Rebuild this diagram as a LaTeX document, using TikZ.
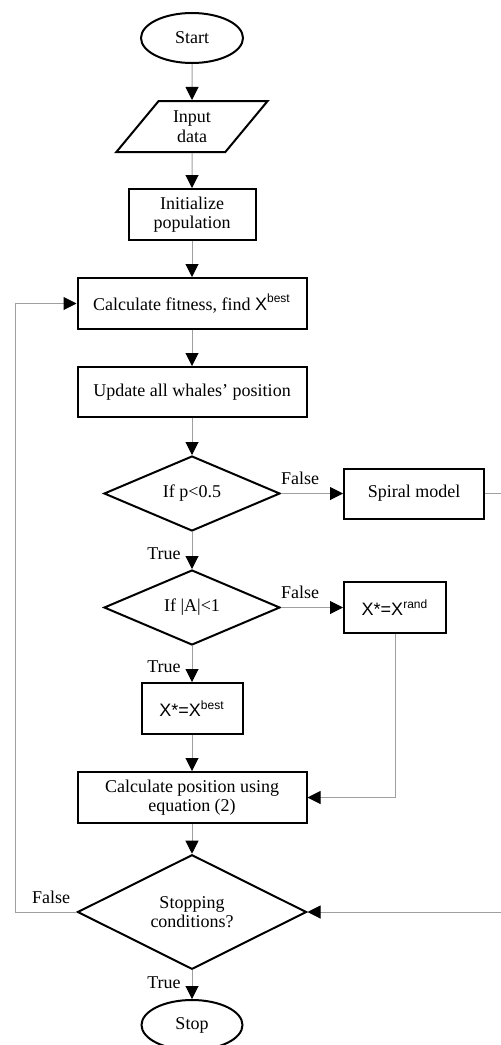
\documentclass[tikz,border=0pt]{standalone}
\usepackage{fontspec}
\setmainfont{Liberation Serif}
\setsansfont{Liberation Sans}
\usepackage{tikz}
\usetikzlibrary{arrows.meta, shapes.geometric}

\begin{document}
\begin{tikzpicture}[x=0.5pt, y=-0.5pt,
  font=\fontsize{9}{9.7}\selectfont,
  block/.style={draw, line width=1pt, align=center, inner sep=1pt,
                minimum height=25.5pt},
  term/.style={block, ellipse, minimum width=51pt, minimum height=25pt},
  io/.style={block, trapezium, trapezium left angle=53, trapezium right angle=127,
             trapezium stretches=true, minimum width=76pt},
  decision/.style={block, diamond, inner sep=0pt},
  flow/.style={draw=gray!75, line width=0.5pt,
               -{Triangle[black, length=6.5pt, width=6.5pt]}},
  tag/.style={inner sep=1pt}]

\useasboundingbox (0,0) rectangle (500,1045);

\node[term] (start) at (192,38) {Start};
\node[io] (input) at (192,126.5) {Input\\data};
\node[block, minimum width=63.5pt] (init) at (192,214.5) {Initialize\\population};
\node[block, minimum width=114.5pt] (fit) at (192,303.5)
  {Calculate fitness, find {\sffamily X\textsuperscript{best}}};
\node[block, minimum width=114.5pt, minimum height=25pt] (upd) at (192,392)
  {Update all whales' position};

\node[decision, minimum width=88pt, minimum height=37.5pt] (ifp) at (192,493.5) {If p<0.5};
\node[block, minimum width=70pt, minimum height=25pt] (spiral) at (414,493.5) {Spiral model};

\node[decision, minimum width=88pt, minimum height=37.5pt] (ifa) at (192,607.5) {If |A|<1};
\node[block, minimum width=51pt] (xrand) at (395,607.5) {\sffamily X*=X\textsuperscript{rand}};
\node[block, minimum width=50.5pt] (xbest) at (192,708.5) {\sffamily X*=X\textsuperscript{best}};

\node[block, minimum width=114.5pt] (calc) at (192,797.5) {Calculate position using\\equation (2)};
\node[decision, minimum width=114.5pt, minimum height=51pt] (stopc) at (192,912)
  {Stopping\\conditions?};
\node[term, minimum width=50.5pt] (stop) at (192,1025) {Stop};

\coordinate (rt) at (501,912);
\coordinate (lf) at (15,912);

% main column
\foreach \a/\b in {start/input, input/init, init/fit, fit/upd, upd/ifp,
                   ifp/ifa, ifa/xbest, xbest/calc, calc/stopc, stopc/stop}
  \draw[flow] (\a) -- (\b);

% branches
\draw[flow] (ifp.east) -- (spiral.west);
\draw[flow] (ifa.east) -- (xrand.west);
\draw[flow] (xrand.south) |- (calc.east);
\draw[flow] (spiral.east) -| (rt) -- (stopc.east);
\draw[flow] (stopc.west) -- (lf) |- (fit.west);

\node[tag] (f1) at (300,478) {False};
\node[tag] (t1) at (164,554) {True};
\node[tag] (f2) at (300,592) {False};
\node[tag] (t2) at (164,667) {True};
\node[tag] (f3) at (51,897) {False};
\node[tag] (t3) at (164,983) {True};

\end{tikzpicture}
\end{document}
